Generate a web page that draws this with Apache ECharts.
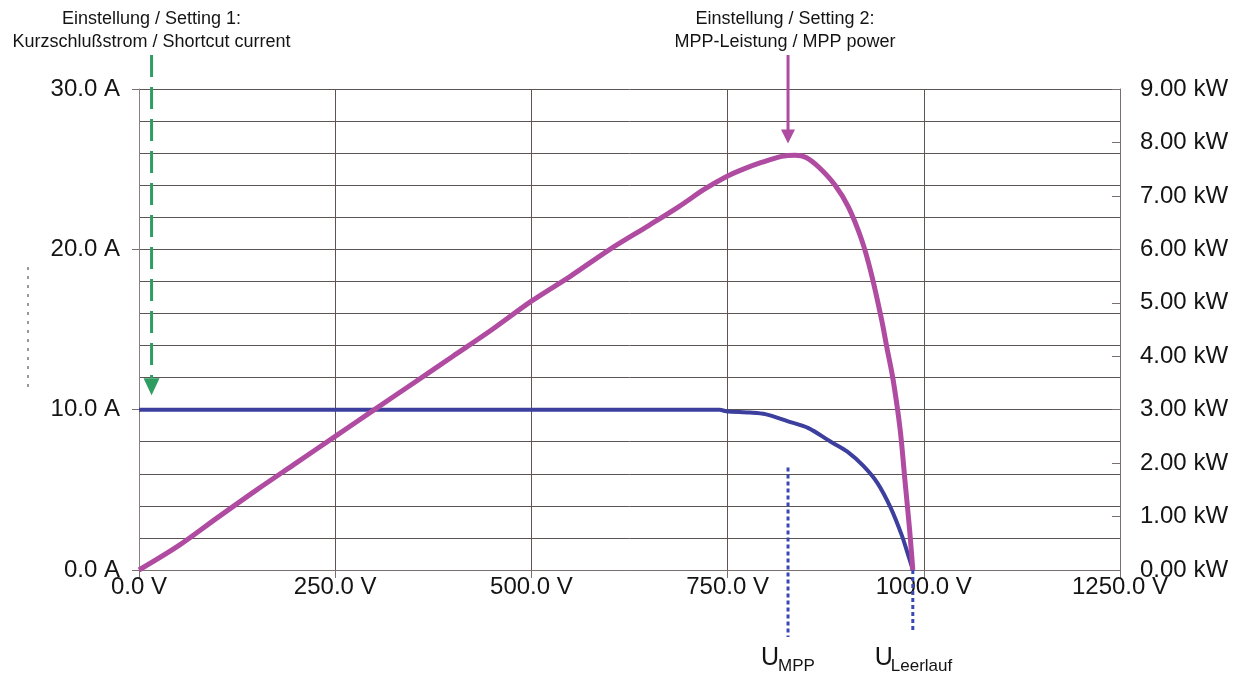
<!DOCTYPE html>
<html>
<head>
<meta charset="utf-8">
<title>PV-Kennlinie</title>
<script src="https://cdn.jsdelivr.net/npm/echarts@6/dist/echarts.min.js"></script>
<style>
  html, body { margin: 0; padding: 0; background: #ffffff; }
  #chart { width: 1242px; height: 675px; }
</style>
</head>
<body>
<div id="chart"></div>
<script>
// Voltage axis ticks (V)
const voltageTicks = [0, 250, 500, 750, 1000, 1250];
// Current axis ticks (A) and power axis ticks (kW)
const currentTicks = [0, 10, 20, 30];
const powerTicks = [0, 1, 2, 3, 4, 5, 6, 7, 8, 9];

// I-V characteristic: voltage (V) and current (A)
const currentVolts = [0, 740, 748, 778, 798, 827, 853, 881, 903, 923, 941, 958, 972, 979, 986];
const currentAmps  = [10, 10, 9.9, 9.82, 9.72, 9.27, 8.85, 8.01, 7.37, 6.49, 5.42, 3.86, 2.16, 1.1, 0];

// P-V characteristic: voltage (V) and power (kW)
const powerVolts = [0, 50, 100, 150, 200, 250, 300, 350, 400, 450, 500, 550, 600, 650, 688, 720, 747, 770, 794, 819, 836, 850, 866, 887, 904, 921, 933, 946, 953, 961, 970, 976, 982, 986];
const powerKw    = [0, 0.45, 0.98, 1.5, 2.0, 2.5, 3.0, 3.5, 4.0, 4.5, 5.03, 5.5, 6.0, 6.45, 6.8, 7.12, 7.35, 7.5, 7.63, 7.74, 7.76, 7.72, 7.54, 7.2, 6.79, 6.17, 5.55, 4.7, 4.16, 3.55, 2.61, 1.67, 0.74, 0];

// Operating points marked on the chart
const setting1Volts = 16;      // short-circuit current setting arrow
const setting1TipAmps = 10.9;
const setting2Volts = 827;     // MPP power setting arrow
const setting2TipKw = 7.98;
const mppVolts = 827;
const mppLineTopAmps = 6.4;
const vocVolts = 986;

const FONT = '"Liberation Sans", Arial, Helvetica, sans-serif';
const GRID_COLOR = '#5e5454';
const BLUE = '#3c3f9e';
const MAGENTA = '#b04ba2';
const GREEN = '#2f9d62';
const DOT_BLUE = '#3a48b4';
const TEXT = '#141414';

const chart = echarts.init(document.getElementById('chart'), null, { renderer: 'canvas' });

const option = {
  backgroundColor: '#ffffff',
  animation: false,
  grid: { left: 139, right: 122, top: 89, bottom: 105 },
  xAxis: {
    type: 'value',
    min: voltageTicks[0],
    max: voltageTicks[voltageTicks.length - 1],
    interval: voltageTicks[1] - voltageTicks[0],
    axisLine: { show: true, lineStyle: { color: '#7a7070', width: 1 } },
    axisTick: { show: true, length: 8, lineStyle: { color: '#7a7070' } },
    axisLabel: {
      margin: 5,
      fontFamily: FONT, fontSize: 24, color: TEXT,
      formatter: v => v.toFixed(1) + ' V'
    },
    splitLine: { show: true, lineStyle: { color: GRID_COLOR, width: 1 } }
  },
  yAxis: [
    {
      type: 'value',
      position: 'left',
      min: currentTicks[0],
      max: currentTicks[currentTicks.length - 1],
      interval: currentTicks[1] - currentTicks[0],
      axisLine: { show: true, lineStyle: { color: '#8a8080', width: 1 } },
      axisTick: { show: true, length: 7, lineStyle: { color: '#7a7070' } },
      axisLabel: {
        margin: 19,
        fontFamily: FONT, fontSize: 24, color: TEXT,
        formatter: v => v.toFixed(1) + ' A'
      },
      splitLine: { show: true, lineStyle: { color: GRID_COLOR, width: 1 } },
      minorTick: { show: false, splitNumber: 5 },
      minorSplitLine: { show: true, lineStyle: { color: GRID_COLOR, width: 1 } }
    },
    {
      type: 'value',
      position: 'right',
      min: powerTicks[0],
      max: powerTicks[powerTicks.length - 1],
      interval: powerTicks[1] - powerTicks[0],
      axisLine: { show: true, lineStyle: { color: '#7a7070', width: 1 } },
      axisTick: { show: true, inside: true, length: 8, lineStyle: { color: '#7a7070' } },
      axisLabel: {
        margin: 20,
        fontFamily: FONT, fontSize: 24, color: TEXT,
        formatter: v => v.toFixed(2) + ' kW'
      },
      splitLine: { show: false }
    }
  ],
  series: [
    {
      name: 'Strom / Current',
      type: 'line',
      yAxisIndex: 0,
      showSymbol: false,
      smooth: 0.3,
      lineStyle: { color: BLUE, width: 4 },
      data: currentVolts.map((v, i) => [v, currentAmps[i]]),
      z: 3
    },
    {
      name: 'Leistung / Power',
      type: 'line',
      yAxisIndex: 1,
      showSymbol: false,
      smooth: 0.3,
      lineStyle: { color: MAGENTA, width: 5 },
      data: powerVolts.map((v, i) => [v, powerKw[i]]),
      z: 4
    }
  ]
};

chart.setOption(option);

// Annotations positioned from data coordinates
const toA = (v, a) => chart.convertToPixel({ xAxisIndex: 0, yAxisIndex: 0 }, [v, a]);
const toKw = (v, p) => chart.convertToPixel({ xAxisIndex: 0, yAxisIndex: 1 }, [v, p]);

const gridTop = toA(0, 30)[1];
const gridBottom = toA(0, 0)[1];

const s1Tip = toA(setting1Volts, setting1TipAmps);
const s2Tip = toKw(setting2Volts, setting2TipKw);
const mppTop = toA(mppVolts, mppLineTopAmps);
const vocBase = toA(vocVolts, 0);

const arrowStartY = gridTop - 34;

const graphics = [
  // Setting 1 label
  {
    type: 'text', z: 10,
    style: {
      x: s1Tip[0], y: 8,
      text: 'Einstellung / Setting 1:\nKurzschlußstrom / Shortcut current',
      textAlign: 'center', textVerticalAlign: 'top',
      font: '18px ' + FONT, lineHeight: 23, fill: TEXT
    }
  },
  // Setting 1 dashed arrow
  {
    type: 'line', z: 10,
    shape: { x1: s1Tip[0], y1: arrowStartY, x2: s1Tip[0], y2: s1Tip[1] - 17 },
    style: { stroke: GREEN, lineWidth: 3, lineDash: [22, 10] }
  },
  {
    type: 'polygon', z: 10,
    shape: { points: [[s1Tip[0] - 8, s1Tip[1] - 17], [s1Tip[0] + 8, s1Tip[1] - 17], [s1Tip[0], s1Tip[1]]] },
    style: { fill: GREEN }
  },
  // Setting 2 label
  {
    type: 'text', z: 10,
    style: {
      x: s2Tip[0] - 3, y: 8,
      text: 'Einstellung / Setting 2:\nMPP-Leistung / MPP power',
      textAlign: 'center', textVerticalAlign: 'top',
      font: '18px ' + FONT, lineHeight: 23, fill: TEXT
    }
  },
  // Setting 2 solid arrow
  {
    type: 'line', z: 10,
    shape: { x1: s2Tip[0], y1: arrowStartY, x2: s2Tip[0], y2: s2Tip[1] - 13 },
    style: { stroke: MAGENTA, lineWidth: 3 }
  },
  {
    type: 'polygon', z: 10,
    shape: { points: [[s2Tip[0] - 7, s2Tip[1] - 14], [s2Tip[0] + 7, s2Tip[1] - 14], [s2Tip[0], s2Tip[1]]] },
    style: { fill: MAGENTA }
  },
  // U_MPP marker
  {
    type: 'line', z: 10,
    shape: { x1: mppTop[0], y1: mppTop[1], x2: mppTop[0], y2: gridBottom + 67 },
    style: { stroke: DOT_BLUE, lineWidth: 3, lineDash: [4, 3] }
  },
  {
    type: 'text', z: 10,
    style: { x: mppTop[0] - 27, y: gridBottom + 76, text: 'U', textAlign: 'left', textVerticalAlign: 'top', font: '25px ' + FONT, fill: TEXT }
  },
  {
    type: 'text', z: 10,
    style: { x: mppTop[0] - 10, y: gridBottom + 88, text: 'MPP', textAlign: 'left', textVerticalAlign: 'top', font: '17px ' + FONT, fill: TEXT }
  },
  // U_Leerlauf marker
  {
    type: 'line', z: 10,
    shape: { x1: vocBase[0], y1: gridBottom, x2: vocBase[0], y2: gridBottom + 63 },
    style: { stroke: DOT_BLUE, lineWidth: 3, lineDash: [4, 3] }
  },
  {
    type: 'text', z: 10,
    style: { x: vocBase[0] - 38, y: gridBottom + 76, text: 'U', textAlign: 'left', textVerticalAlign: 'top', font: '25px ' + FONT, fill: TEXT }
  },
  {
    type: 'text', z: 10,
    style: { x: vocBase[0] - 22, y: gridBottom + 88, text: 'Leerlauf', textAlign: 'left', textVerticalAlign: 'top', font: '17px ' + FONT, fill: TEXT }
  },
  // faint dotted mark beside the current axis
  {
    type: 'line', z: 10,
    shape: { x1: 28, y1: 267, x2: 28, y2: 393 },
    style: { stroke: '#9a9a9a', lineWidth: 2, lineDash: [3, 6] }
  }
];

chart.setOption({ graphic: graphics });
</script>
</body>
</html>
